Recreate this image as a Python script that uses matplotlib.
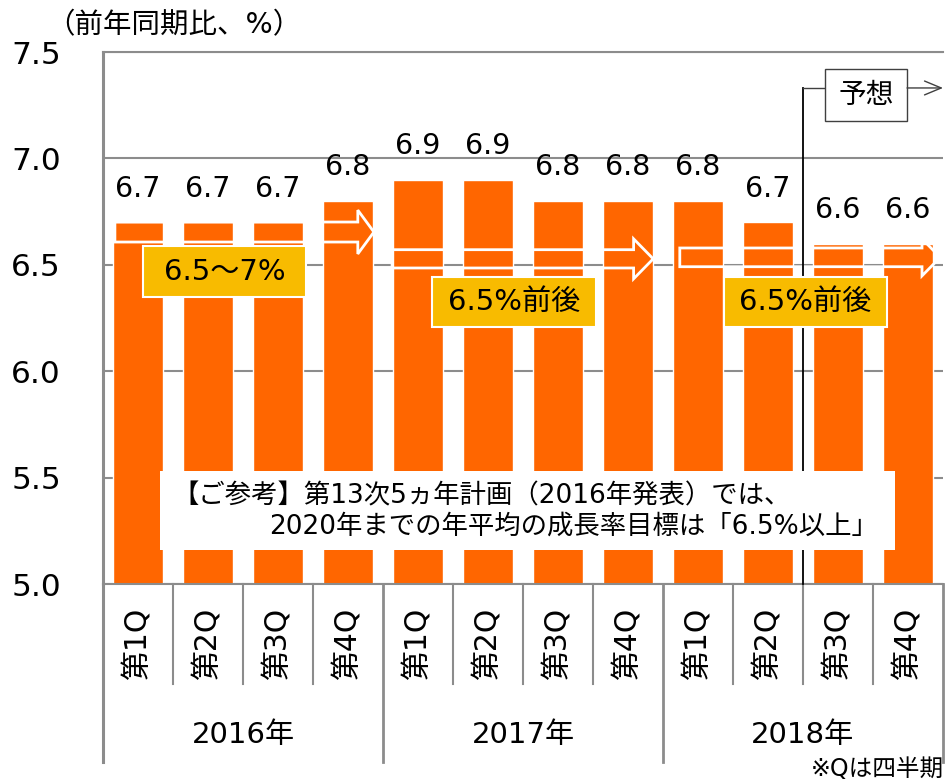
import numpy as np
import matplotlib
matplotlib.use("Agg")
import matplotlib.pyplot as plt
from matplotlib.patches import Rectangle, Polygon

plt.rcParams["font.family"] = ["DejaVu Sans", "Noto Sans CJK JP"]

# data
quarters = ["第1Q", "第2Q", "第3Q", "第4Q"] * 3
years = ["2016年", "2017年", "2018年"]
growth = [6.7, 6.7, 6.7, 6.8, 6.9, 6.9, 6.8, 6.8, 6.8, 6.7, 6.6, 6.6]
targets = ["6.5～7%", "6.5%前後", "6.5%前後"]
yticks = [5.0, 5.5, 6.0, 6.5, 7.0, 7.5]

ORANGE = "#FF6600"
YELLOW = "#F8BB00"
GRAY = "#8C8C8C"

fig = plt.figure(figsize=(9.48, 7.83), dpi=100)
ax = fig.add_axes([103 / 948, 199 / 783, 840 / 948, 532 / 783])

x = np.arange(len(growth))
ax.bar(x, growth, width=0.72, color=ORANGE, edgecolor="white", linewidth=1, zorder=2)

ax.set_xlim(-0.5, 11.5)
ax.set_ylim(5, 7.5)
ax.yaxis.grid(True, color=GRAY, linewidth=1.5)
ax.set_axisbelow(True)

ax.spines["right"].set_visible(False)
ax.spines["left"].set_color(GRAY)
ax.spines["left"].set_linewidth(2.2)
for s in ["top", "bottom"]:
    ax.spines[s].set_color(GRAY)
    ax.spines[s].set_linewidth(1.5)

ax.set_yticks(yticks, labels=[f"{v:.1f}" for v in yticks], ha="left")
ax.tick_params(axis="y", length=0, pad=66, labelsize=22.5)
ax.set_xticks(x, quarters, rotation=90)
ax.tick_params(axis="x", length=0, pad=17, labelsize=21.5)

# value labels
for xi, v in zip(x, growth):
    ax.annotate(f"{v:.1f}", (xi, v), xytext=(0, 18.5), textcoords="offset points",
                ha="center", va="baseline", fontsize=20.5)

# category separators below the axis
tr = ax.get_xaxis_transform()
for b in [0.5, 1.5, 2.5, 4.5, 5.5, 6.5, 8.5, 9.5, 10.5]:
    ax.plot([b, b], [0, -0.188], transform=tr, color=GRAY, lw=1.5, clip_on=False)
for b in [-0.5, 3.5, 7.5, 11.5]:
    ax.plot([b, b], [0, -0.335], transform=tr, color=GRAY, lw=2 if b > 0 else 2.2,
            clip_on=False)
for i, yr in enumerate(years):
    ax.text(4 * i + 1.5, -0.284, yr, transform=tr, ha="center", va="center", fontsize=21)


def block_arrow(x0, x1, yc, shaft, head, head_len):
    pts = [(x0, yc + shaft), (x1 - head_len, yc + shaft), (x1 - head_len, yc + head),
           (x1, yc), (x1 - head_len, yc - head), (x1 - head_len, yc - shaft),
           (x0, yc - shaft)]
    ax.add_patch(Polygon(pts, closed=True, facecolor="none", edgecolor="white",
                         lw=2, zorder=3))


# target arrows and boxes (layout)
block_arrow(-0.33, 3.37, 6.654, 0.047, 0.103, 0.23)
block_arrow(3.63, 7.36, 6.528, 0.043, 0.094, 0.28)
block_arrow(7.74, 11.46, 6.535, 0.044, 0.087, 0.26)

boxes = [(0.07, 2.40, 6.349, 6.588), (4.20, 6.54, 6.208, 6.443), (8.37, 10.70, 6.208, 6.443)]
for (bx0, bx1, by0, by1), t in zip(boxes, targets):
    ax.add_patch(Rectangle((bx0, by0), bx1 - bx0, by1 - by0, facecolor=YELLOW,
                           edgecolor="white", lw=1.5, zorder=4))
    ax.text((bx0 + bx1) / 2, (by0 + by1) / 2, t, ha="center", va="center",
            fontsize=21, zorder=5)

# forecast marker
ax.plot([9.5, 9.5], [5, 7.331], color="black", lw=1.3, zorder=3.5, clip_on=False)
ax.plot([9.5, 9.814], [7.331, 7.331], color="#404040", lw=1, zorder=3.5, clip_on=False)
ax.add_patch(Rectangle((9.814, 7.176), 1.172, 0.244, facecolor="white",
                       edgecolor="#404040", lw=1, zorder=4, clip_on=False))
ax.text(10.4, 7.298, "予想", ha="center", va="center", fontsize=20, zorder=5)
ax.annotate("", xy=(11.5, 7.331), xytext=(10.986, 7.331),
            arrowprops=dict(arrowstyle="->,head_length=0.6,head_width=0.25",
                            mutation_scale=20, color="#404040", lw=1,
                            shrinkA=0, shrinkB=0),
            annotation_clip=False, zorder=4)

# reference note
ax.add_patch(Rectangle((0.314, 5.160), 10.5, 0.371, facecolor="white",
                       edgecolor="none", zorder=4))
ax.text(0.486, 5.409, "【ご参考】第13次5ヵ年計画（2016年発表）では、",
        ha="left", va="center", fontsize=19, zorder=5)
ax.text(10.571, 5.268, "2020年までの年平均の成長率目標は「6.5%以上」",
        ha="right", va="center", fontsize=19, zorder=5)

fig.text(46 / 948, 1 - 25 / 783, "（前年同期比、%）", ha="left", va="center", fontsize=20.5)
fig.text(944 / 948, 14 / 783, "※Qは四半期", ha="right", va="center", fontsize=17)

fig.savefig("out.png", dpi=100)
